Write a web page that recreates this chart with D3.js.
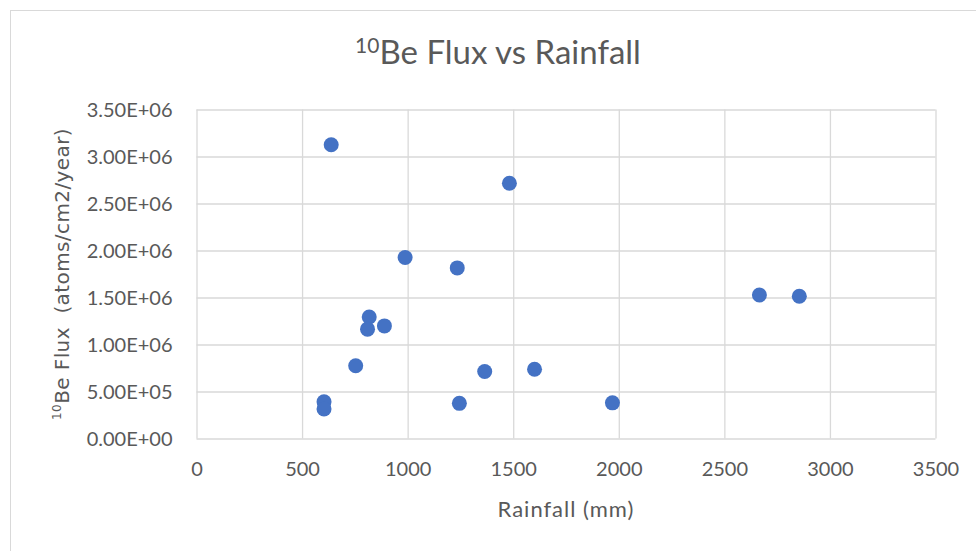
<!DOCTYPE html>
<html>
<head>
<meta charset="utf-8">
<script src="https://cdn.jsdelivr.net/npm/d3@7"></script>
<style>
  body { margin: 0; background: #fff; }
  svg { display: block; }
  .tick text { fill: #595959; }
</style>
</head>
<body>
<div id="chart"></div>
<script>
// Rainfall (mm) and 10Be flux (atoms/cm2/year)
const rainfall = [638, 1482, 988, 1235, 2666, 2855, 818, 810, 890, 754, 1365, 1601, 604, 604, 1245, 1970];
const flux = [3.125e6, 2.715e6, 1.925e6, 1.815e6, 1.527e6, 1.514e6, 1.293e6, 1.163e6, 1.198e6, 0.774e6, 0.713e6, 0.737e6, 0.39e6, 0.314e6, 0.374e6, 0.379e6];
const xTicks = [0, 500, 1000, 1500, 2000, 2500, 3000, 3500];
const yTicks = [0, 5e5, 1e6, 1.5e6, 2e6, 2.5e6, 3e6, 3.5e6];

const W = 976, H = 551;
const margin = {top: 109.5, right: 40.5, bottom: 112.5, left: 196.5};
const width = W - margin.left - margin.right;
const height = H - margin.top - margin.bottom;
const textColor = "#595959";
const gridColor = "#d9d9d9";
const tickFont = "Lato, 'Noto Sans', sans-serif";

const svg = d3.select("#chart")
    .append("svg")
    .attr("width", W)
    .attr("height", H);

// chart area border (cropped on right / bottom)
svg.append("rect")
    .attr("x", 10.5).attr("y", 10.5)
    .attr("width", W + 20).attr("height", H + 20)
    .attr("fill", "none")
    .attr("stroke", gridColor);

const g = svg.append("g")
    .attr("transform", `translate(${margin.left},${margin.top})`);

const x = d3.scaleLinear().domain([0, 3500]).range([0, width]);
const y = d3.scaleLinear().domain([0, 3.5e6]).range([height, 0]);

// gridlines + labels
const xAxis = g.append("g")
    .attr("transform", `translate(0,${height})`)
    .call(d3.axisBottom(x).tickValues(xTicks).tickSize(-height).tickPadding(23).tickFormat(d3.format("d")));

const yAxis = g.append("g")
    .call(d3.axisLeft(y).tickValues(yTicks).tickSize(-width).tickPadding(24)
        .tickFormat(d => d3.format(".2e")(d).toUpperCase().replace(/E([+-])(\d)$/, "E$10$2")));

[xAxis, yAxis].forEach(a => {
    a.select(".domain").remove();
    a.selectAll(".tick line").attr("stroke", gridColor).attr("stroke-width", 1.3);
    a.selectAll(".tick text")
        .attr("font-family", tickFont)
        .attr("font-size", 20);
});
yAxis.selectAll(".tick text").attr("dy", "0.36em");

// points
g.selectAll("circle")
    .data(rainfall.map((r, i) => [r, flux[i]]))
    .enter()
    .append("circle")
    .attr("cx", d => x(d[0]))
    .attr("cy", d => y(d[1]))
    .attr("r", 7.5)
    .attr("fill", "#4472c4");

// title
const title = svg.append("text")
    .attr("x", 498).attr("y", 64)
    .attr("text-anchor", "middle")
    .attr("font-family", tickFont)
    .attr("font-size", 33)
    .attr("fill", textColor);
title.append("tspan").attr("font-size", 21).attr("dy", -11).text("10");
title.append("tspan").attr("dy", 11).text("Be Flux vs Rainfall");

// x axis title
svg.append("text")
    .attr("x", margin.left + width / 2).attr("y", 517)
    .attr("text-anchor", "middle")
    .attr("font-family", tickFont)
    .attr("font-size", 22)
    .attr("letter-spacing", 1)
    .attr("fill", textColor)
    .text("Rainfall (mm)");

// y axis title
const yTitle = svg.append("text")
    .attr("transform", `translate(69,274) rotate(-90)`)
    .attr("text-anchor", "middle")
    .attr("font-family", "'DejaVu Sans', sans-serif")
    .attr("font-size", 20)
    .attr("letter-spacing", 0.4)
    .attr("fill", textColor)
    .style("white-space", "pre");
yTitle.append("tspan").attr("font-size", 12).attr("dy", -8).text("10");
yTitle.append("tspan").attr("dy", 8).text("Be Flux  (atoms/cm2/year)");
</script>
</body>
</html>
